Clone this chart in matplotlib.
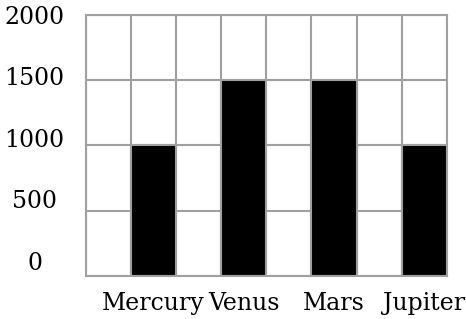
import numpy as np
import matplotlib
matplotlib.use('Agg')
import matplotlib.pyplot as plt

planets = ['Mercury', 'Venus', 'Mars', 'Jupiter']
values = [1000, 1500, 1500, 1000]
y_ticks = [0, 500, 1000, 1500, 2000]

grid_col = '#a0a0a0'
plt.rcParams['font.family'] = ['DejaVu Serif']

fig = plt.figure(figsize=(4.66, 3.19), dpi=100)
ax = fig.add_axes([0.1845, 0.1357, 0.9586 - 0.1845, 0.953 - 0.1357])

# each planet sits in every second column of the grid
pos = np.arange(len(planets)) * 2 + 1.5
ax.bar(pos, values, width=1.0, color='black', edgecolor=grid_col, linewidth=1.5, zorder=3)

ax.set_xlim(0, 2 * len(planets))
ax.set_ylim(0, 2000)
ax.set_xticks(np.arange(0, 2 * len(planets) + 1), minor=True)
ax.set_xticks(pos)
ax.set_xticklabels(planets, fontsize=17)
ax.set_yticks(y_ticks)
ax.set_yticklabels([])

# y labels drawn by hand: in the original they drift a bit above their gridlines near the bottom
for v in y_ticks:
    shift = (12.5 - v * 0.0075) * 0.72
    ax.annotate(str(v), xy=(0, v), xycoords=('axes fraction', 'data'),
                xytext=(-37, shift), textcoords='offset points',
                ha='center', va='center', fontsize=17)

ax.grid(True, which='minor', axis='x', color=grid_col, linewidth=1.5)
ax.grid(True, which='major', axis='y', color=grid_col, linewidth=1.5)
ax.set_axisbelow(True)
ax.tick_params(axis='both', which='both', length=0)
ax.tick_params(axis='x', pad=12)
for s in ax.spines.values():
    s.set_color(grid_col)
    s.set_linewidth(1.5)
    s.set_zorder(4)

fig.savefig('out.png', dpi=100)
